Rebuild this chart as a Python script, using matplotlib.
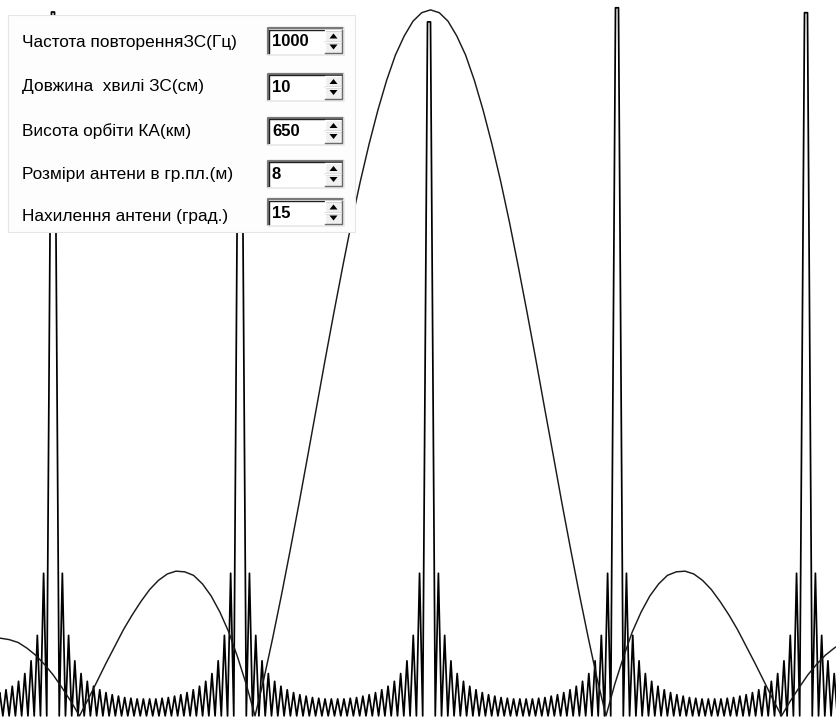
import matplotlib
matplotlib.use("Agg")
import matplotlib.pyplot as plt
from matplotlib.patches import Rectangle, Polygon

# antenna elevation pattern envelope: sample position (screen samples) and relative amplitude
pattern_x = [-17.0, -8.3, 0.5, 9.3, 18.1, 26.9, 35.6, 44.4, 53.2, 62.0,
             70.7, 79.5, 88.3, 97.1, 105.8, 114.6, 123.4, 132.2, 140.9, 149.7,
             158.5, 167.3, 176.0, 184.8, 193.6, 202.4, 211.1, 219.9, 228.7, 237.4,
             246.2, 255.0, 263.8, 272.5, 281.3, 290.1, 298.9, 307.7, 316.4, 325.2,
             334.0, 342.8, 351.5, 360.3, 369.1, 377.9, 386.6, 395.4, 404.2, 413.0,
             421.7, 430.5, 439.3, 448.0, 456.8, 465.6, 474.4, 483.1, 491.9, 500.7,
             509.5, 518.2, 527.0, 535.8, 544.6, 553.4, 562.1, 570.9, 579.7, 588.5,
             597.2, 606.0, 614.8, 623.6, 632.3, 641.1, 649.9, 658.7, 667.4, 676.2,
             685.0, 693.8, 702.5, 711.3, 720.1, 728.9, 737.6, 746.4, 755.2, 764.0,
             772.7, 781.5, 790.3, 799.1, 807.8, 816.6, 825.4, 834.2, 842.9]
pattern_y = [0.106, 0.109, 0.110, 0.108, 0.104, 0.096, 0.086, 0.073, 0.058, 0.040,
             0.021, 0.0, 0.024, 0.049, 0.074, 0.098, 0.122, 0.143, 0.162, 0.179,
             0.192, 0.201, 0.205, 0.204, 0.199, 0.187, 0.170, 0.147, 0.119, 0.084,
             0.045, 0.0, 0.052, 0.109, 0.170, 0.234, 0.300, 0.368, 0.436, 0.505,
             0.572, 0.637, 0.699, 0.757, 0.810, 0.858, 0.900, 0.936, 0.963, 0.984,
             0.996, 1.0, 0.996, 0.984, 0.963, 0.936, 0.900, 0.858, 0.810, 0.757,
             0.699, 0.637, 0.572, 0.505, 0.436, 0.368, 0.300, 0.234, 0.170, 0.109,
             0.052, 0.0, 0.045, 0.084, 0.119, 0.147, 0.170, 0.187, 0.199, 0.204,
             0.205, 0.201, 0.192, 0.179, 0.162, 0.143, 0.122, 0.098, 0.074, 0.049,
             0.024, 0.0, 0.021, 0.040, 0.058, 0.073, 0.086, 0.096, 0.104]

# ambiguity (grating) peaks: positions and heights
spike_x = [-135, 53, 240, 429, 617, 806, 994]
spike_peak = [1.0, 0.997, 0.99, 0.983, 1.003, 0.996, 1.0]
spike_top_width = 3.0
# ripple peak heights going away from a spike (one half of the gap)
sidelobe_peak = [0.202, 0.114, 0.078, 0.060, 0.049, 0.042, 0.037,
                 0.033, 0.030, 0.028, 0.026, 0.025, 0.024, 0.024]
zeros_per_gap = 30

# control panel
labels = ["Частота повторенняЗС(Гц)", "Довжина  хвилі ЗС(см)", "Висота орбіти КА(км)",
          "Розміри антени в гр.пл.(м)", "Нахилення антени (град.)"]
values = ["1000", "10", "650", "8", "15"]


def ripple_curve():
    """Zigzag through zeros and ripple peaks between neighbouring spikes."""
    rx, ry = [], []
    lobes = sidelobe_peak + sidelobe_peak[::-1]
    half = spike_top_width / 2
    for i in range(len(spike_x) - 1):
        x0, x1 = spike_x[i], spike_x[i + 1]
        d = (x1 - x0) / zeros_per_gap
        if i > 0:
            rx.append(x0 - half)
            ry.append(spike_peak[i])
        rx.append(x0 + half)
        ry.append(spike_peak[i])
        for k in range(1, zeros_per_gap):
            rx.append(x0 + k * d)
            ry.append(0.0)
            if k <= len(lobes):
                rx.append(x0 + (k + 0.5) * d)
                ry.append(lobes[k - 1])
    rx.append(spike_x[-1] - half)
    ry.append(spike_peak[-1])
    return rx, ry


fig = plt.figure(figsize=(8.37, 7.18), dpi=100)
fig.patch.set_facecolor("white")

ax = fig.add_axes([0, 0, 1, 1])
ax.set_xlim(0, 837)
ax.set_ylim(-0.003, 1.014)
ax.axis("off")

rx, ry = ripple_curve()
ax.plot(rx, ry, color="black", linewidth=1.25)
ax.plot(pattern_x, pattern_y, color="#1a1a1a", linewidth=1.05)

# panel with spin boxes (drawn in screen pixels)
ui = fig.add_axes([0, 0, 1, 1], zorder=5)
ui.set_xlim(0, 837)
ui.set_ylim(718, 0)
ui.axis("off")
ui.patch.set_alpha(0)

ui.add_patch(Rectangle((8, 15), 347, 217, facecolor="#fdfdfd", edgecolor="#e6e6e6", linewidth=0.8))

label_y = [43, 87, 131, 174, 217]
box_y = [41.5, 87, 131, 174, 212.5]
font = ["Liberation Sans Narrow", "Liberation Sans", "DejaVu Sans"]

for lab, val, ly, by in zip(labels, values, label_y, box_y):
    ui.text(22, ly, lab, fontsize=12.4, family=font, va="center", ha="left", color="black")
    top, bot = by - 13.5, by + 13.5
    left, right = 268, 344
    ui.add_patch(Rectangle((left, top), right - left, bot - top, facecolor="white", edgecolor="none"))
    # sunken border
    ui.plot([left, left, right], [bot, top, top], color="#7a7a7a", linewidth=1.6, solid_capstyle="butt")
    ui.plot([left + 1.5, left + 1.5, right - 1.5], [bot - 1.5, top + 1.5, top + 1.5], color="#202020", linewidth=1.0)
    ui.plot([left, right, right], [bot, bot, top], color="#e8e8e8", linewidth=1.2)
    ui.text(272, by + 0.5, val, fontsize=12, family=font, fontweight="bold", va="center", ha="left")
    # spin buttons
    bl, br = 325, 342
    mid = by
    for t0, t1 in [(top + 2, mid), (mid, bot - 2)]:
        ui.add_patch(Rectangle((bl, t0), br - bl, t1 - t0, facecolor="#f0f0f0", edgecolor="none"))
        ui.plot([bl, bl, br], [t1, t0, t0], color="white", linewidth=1.0)
        ui.plot([bl, br, br], [t1, t1, t0], color="#6a6a6a", linewidth=1.0)
    cx = (bl + br) / 2
    ui.add_patch(Polygon([[cx - 4, mid - 3.0], [cx + 4, mid - 3.0], [cx, mid - 8.0]], closed=True,
                         facecolor="black", edgecolor="none"))
    ui.add_patch(Polygon([[cx - 4, mid + 3.0], [cx + 4, mid + 3.0], [cx, mid + 8.0]], closed=True,
                         facecolor="black", edgecolor="none"))

fig.savefig("out.png", dpi=100, facecolor="white")
